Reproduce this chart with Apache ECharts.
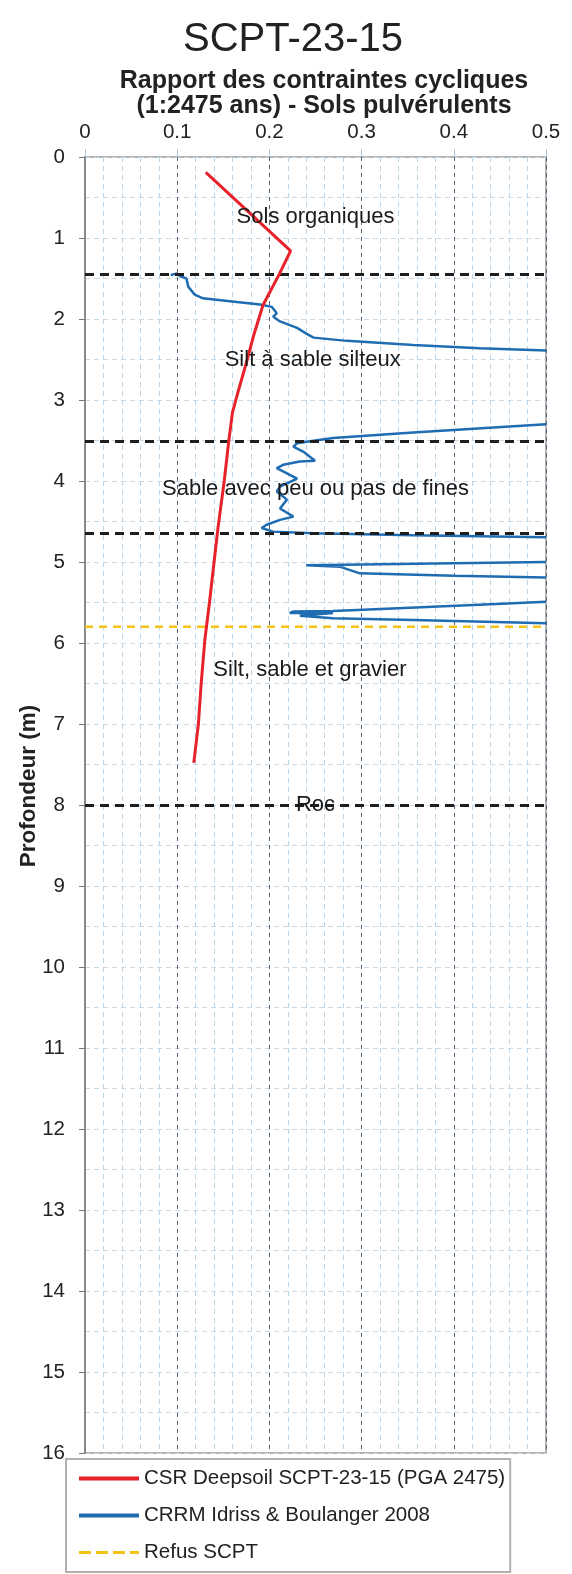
<!DOCTYPE html>
<html><head><meta charset="utf-8">
<script src="https://cdn.jsdelivr.net/npm/echarts@6/dist/echarts.min.js"></script>
<style>html,body{margin:0;padding:0;background:#fff}#c{width:572px;height:1574px}</style>
</head><body><div id="c"></div>
<script>
// ---- data ----
var titleText = 'SCPT-23-15';
var xAxisTitle = 'Rapport des contraintes cycliques\n(1:2475 ans) - Sols pulvérulents';
var yAxisTitle = 'Profondeur (m)';
var seriesNames = ['CSR Deepsoil SCPT-23-15 (PGA 2475)', 'CRRM Idriss & Boulanger 2008', 'Refus SCPT'];

// CSR: [ratio, depth]
var csrValues = [[0.131,0.19],[0.223,1.16],[0.211,1.44],[0.193,1.83],[0.183,2.2],[0.176,2.5],[0.166,2.9],[0.160,3.15],[0.156,3.5],[0.151,4.0],[0.144,4.6],[0.140,5.0],[0.135,5.5],[0.130,5.96],[0.126,6.5],[0.123,7.0],[0.118,7.48]];

// CRR segments (the curve leaves the 0–0.5 range between segments)
var crrSeg1 = [[0.093,1.456],[0.099,1.44],[0.103,1.47],[0.110,1.50],[0.112,1.60],[0.119,1.70],[0.128,1.745],[0.157,1.78],[0.190,1.82],[0.2025,1.85],[0.208,1.93],[0.204,1.97],[0.2115,2.03],[0.230,2.11],[0.240,2.18],[0.248,2.23],[0.284,2.27],[0.356,2.32],[0.428,2.36],[0.5,2.39]];
var crrSeg2 = [[0.5,3.30],[0.356,3.40],[0.269,3.47],[0.244,3.51],[0.230,3.535],[0.226,3.575],[0.237,3.64],[0.2495,3.75],[0.233,3.76],[0.215,3.80],[0.208,3.84],[0.219,3.905],[0.230,3.97],[0.2115,4.07],[0.208,4.13],[0.219,4.23],[0.2115,4.34],[0.226,4.44],[0.2115,4.48],[0.197,4.54],[0.1916,4.58],[0.204,4.625],[0.248,4.645],[0.356,4.67],[0.5,4.695]];
var crrSeg3 = [[0.5,5.00],[0.240,5.04],[0.277,5.06],[0.298,5.14],[0.400,5.17],[0.5,5.19]];
var crrSeg4 = [[0.5,5.49],[0.446,5.52],[0.302,5.59],[0.269,5.605],[0.226,5.61],[0.222,5.63],[0.269,5.63],[0.233,5.665],[0.269,5.695],[0.356,5.715],[0.5,5.755]];

var refusDepth = 5.80;
var layerBoundaries = [1.45, 3.51, 4.64, 8.0];
var layerLabels = [
  {name:'Sols organiques', x:0.250, depth:0.74},
  {name:'Silt à sable silteux', x:0.247, depth:2.5},
  {name:'Sable avec peu ou pas de fines', x:0.250, depth:4.1},
  {name:'Silt, sable et gravier', x:0.244, depth:6.33},
  {name:'Roc', x:0.250, depth:8.0}
];
var xMin = 0, xMax = 0.5, xInterval = 0.1;
var yMin = 0, yMax = 16, yInterval = 1;

// ---- build ----
var crrData = [].concat(crrSeg1, ['-'], crrSeg2, ['-'], crrSeg3, ['-'], crrSeg4);
var FONT = '"Liberation Sans", Arial, sans-serif';
var ICON_SOLID = 'path://M0,0L0.01,0L0.01,0.01Z M0,5L60,5L60,9L0,9Z M0,14L0.01,14L0.01,13.99Z';
var ICON_DASH = 'path://M0,0L0.01,0L0.01,0.01Z M0,5.5L12,5.5L12,8.5L0,8.5Z M17,5.5L29,5.5L29,8.5L17,8.5Z M34,5.5L46,5.5L46,8.5L34,8.5Z M51,5.5L60,5.5L60,8.5L51,8.5Z M0,14L0.01,14L0.01,13.99Z';
var chart = echarts.init(document.getElementById('c'), null, {renderer:'canvas'});
var option = {
  animation:false,
  backgroundColor:'#fff',
  title:[
    {text:titleText, left:288, top:15, textAlign:'center', textStyle:{fontFamily:FONT, fontSize:40, fontWeight:'normal', color:'#222'}},
    {text:xAxisTitle, left:319, top:64, textAlign:'center', textStyle:{fontFamily:FONT, fontSize:25, fontWeight:'bold', color:'#222', lineHeight:24.5}}
  ],
  graphic:[
    {type:'text', x:29, y:786, rotation:Math.PI/2, style:{text:yAxisTitle, fontFamily:FONT, fontSize:22.5, fontWeight:'bold', fill:'#222', align:'center', verticalAlign:'middle'}}
  ],
  legend:{
    orient:'vertical', left:66, top:1459,
    data:[
      {name:seriesNames[0], icon:ICON_SOLID},
      {name:seriesNames[1], icon:ICON_SOLID},
      {name:seriesNames[2], icon:ICON_DASH}
    ],
    padding:[9,5,9,13], itemGap:16, itemWidth:60, itemHeight:14,
    itemStyle:{borderWidth:0},
    borderColor:'#b0b0b0', borderWidth:2,
    textStyle:{fontFamily:FONT, fontSize:20.5, color:'#222'}
  },
  grid:{left:85, right:26, top:157, bottom:121, show:true, borderColor:'#9a9a9a', borderWidth:1.5, backgroundColor:'transparent'},
  xAxis:{
    type:'value', position:'top', min:xMin, max:xMax, interval:xInterval,
    axisLine:{show:false},
    axisTick:{show:true, length:8, lineStyle:{color:'#a9c9e0'}},
    axisLabel:{fontFamily:FONT, fontSize:20.5, color:'#222', margin:14},
    splitLine:{show:true, lineStyle:{color:'#55607a', type:[4,4], width:1}},
    minorTick:{show:false, splitNumber:5},
    minorSplitLine:{show:true, lineStyle:{color:'#b9d5ea', type:[5,4], width:1}}
  },
  yAxis:{
    type:'value', inverse:true, min:yMin, max:yMax, interval:yInterval,
    axisLine:{show:true, lineStyle:{color:'#8a8a8a', width:2}},
    axisTick:{show:true, inside:false, length:6, lineStyle:{color:'#777'}},
    axisLabel:{fontFamily:FONT, fontSize:20.5, color:'#222', margin:20},
    splitLine:{show:true, lineStyle:{color:'#c9d9e6', type:[5,4], width:1}},
    minorTick:{show:false, splitNumber:2},
    minorSplitLine:{show:true, lineStyle:{color:'#c9d9e6', type:[5,4], width:1}}
  },
  series:[
    {
      name:'layers', type:'line', data:[], silent:true,
      markLine:{symbol:'none', silent:true, label:{show:false},
        lineStyle:{color:'#1e1e1e', type:[9,6], width:3},
        data:layerBoundaries.map(function(d){return {yAxis:d};})}
    },
    {
      name:'labels', type:'scatter', symbolSize:0, silent:true, z:6,
      itemStyle:{opacity:1},
      data:layerLabels.map(function(l){return {name:l.name, value:[l.x, l.depth]};}),
      label:{show:true, position:'inside', formatter:'{b}', fontFamily:FONT, fontSize:22, color:'#1a1a1a', opacity:1}
    },
    {
      name:seriesNames[1], type:'line', data:crrData, symbol:'none', connectNulls:false, z:4,
      lineStyle:{color:'#1f6cb3', width:2.5}, itemStyle:{color:'#1f6cb3'}
    },
    {
      name:seriesNames[0], type:'line', data:csrValues, symbol:'none', z:5,
      lineStyle:{color:'#e8222a', width:3}, itemStyle:{color:'#e8222a'}
    },
    {
      name:seriesNames[2], type:'line', data:[[xMin, refusDepth],[xMax, refusDepth]], symbol:'none', z:3,
      lineStyle:{color:'#f3c316', width:2.5, type:[8,6]}, itemStyle:{color:'#f3c316'}
    }
  ]
};
chart.setOption(option);
</script></body></html>
